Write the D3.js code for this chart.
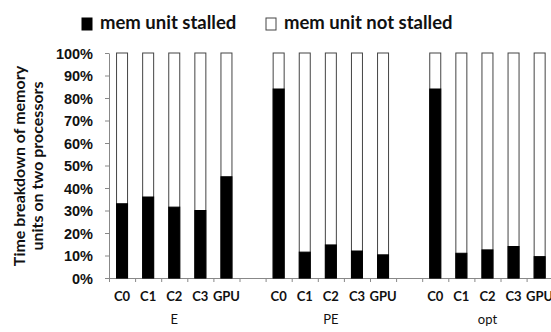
<!DOCTYPE html>
<html>
<head>
<meta charset="utf-8">
<script src="https://cdn.jsdelivr.net/npm/d3@7"></script>
<style>
  body { margin: 0; background: #fff; }
  svg { display: block; font-family: Lato, "Liberation Sans", sans-serif; }
</style>
</head>
<body>
<div id="chart"></div>
<script>
// groups and processors on the x axis
const groups = ['E', 'PE', 'opt'];
const units = ['C0', 'C1', 'C2', 'C3', 'GPU'];
// % of time the memory unit is stalled, per group
const stalledE = [33, 36, 31.5, 30, 45];
const stalledPE = [84, 11.5, 14.7, 12, 10.3];
const stalledOpt = [84, 11, 12.5, 14, 9.5];
const yTicks = [0, 10, 20, 30, 40, 50, 60, 70, 80, 90, 100];
const legendLabels = ['mem unit stalled', 'mem unit not stalled'];

const width = 551;
const height = 332;
const margin = { left: 109, top: 53, bottom: 278 };

// one slot per bar, with an empty slot between groups
const stalledByGroup = [stalledE, stalledPE, stalledOpt];
const slots = [];
groups.forEach((g, gi) => {
    units.forEach((u, ui) => {
        slots.push({ group: g, unit: u, idx: gi * (units.length + 1) + ui, stalled: stalledByGroup[gi][ui] });
    });
});
const nSlots = groups.length * (units.length + 1) - 1;

const svg = d3.select('#chart')
    .append('svg')
    .attr('width', width)
    .attr('height', height);

const step = 26.1;
const x = d3.scaleLinear()
    .domain([0, nSlots])
    .range([margin.left, margin.left + nSlots * step]);

const y = d3.scaleLinear()
    .domain([0, 100])
    .range([margin.bottom, margin.top]);

const barW = 11;

// y axis
const yAxis = svg.append('g')
    .attr('transform', `translate(${margin.left},0)`)
    .call(d3.axisLeft(y).tickValues(yTicks).tickFormat(d => d + '%').tickSize(4).tickSizeOuter(0));
yAxis.select('.domain').attr('stroke', '#888');
yAxis.selectAll('.tick line').attr('stroke', '#888');
yAxis.selectAll('.tick text')
    .attr('x', -16)
    .attr('dy', '0.35em')
    .style('font-size', '14.5px')
    .style('font-weight', 'bold')
    .attr('fill', '#111');

// x axis (ticks at slot boundaries)
const xAxis = svg.append('g')
    .attr('transform', `translate(0,${margin.bottom})`)
    .call(d3.axisBottom(x).tickValues(d3.range(nSlots + 1)).tickFormat('').tickSize(4).tickSizeOuter(0));
xAxis.select('.domain').attr('stroke', '#888');
xAxis.selectAll('.tick line').attr('stroke', '#888');

// bars: white full-height box, black stalled part
const bars = svg.append('g');
bars.selectAll('rect.total')
    .data(slots)
    .join('rect')
    .attr('class', 'total')
    .attr('x', d => x(d.idx + 0.5) - barW / 2)
    .attr('y', y(100))
    .attr('width', barW)
    .attr('height', y(0) - y(100))
    .attr('fill', '#fff')
    .attr('stroke', '#444')
    .attr('stroke-width', 1);

bars.selectAll('rect.stalled')
    .data(slots)
    .join('rect')
    .attr('class', 'stalled')
    .attr('x', d => x(d.idx + 0.5) - barW / 2)
    .attr('y', d => y(d.stalled))
    .attr('width', barW)
    .attr('height', d => y(0) - y(d.stalled))
    .attr('fill', '#000')
    .attr('stroke', '#000')
    .attr('stroke-width', 1);

// category labels
svg.append('g').selectAll('text')
    .data(slots)
    .join('text')
    .attr('x', d => x(d.idx + 0.5))
    .attr('y', 301)
    .attr('text-anchor', 'middle')
    .style('font-size', '13px')
    .style('font-weight', 'bold')
    .attr('fill', '#111')
    .text(d => d.unit);

// group labels
svg.append('g').selectAll('text')
    .data(groups)
    .join('text')
    .attr('x', (d, i) => x(i * (units.length + 1) + units.length / 2))
    .attr('y', 324)
    .attr('text-anchor', 'middle')
    .style('font-size', '13px')
    .attr('fill', '#111')
    .text(d => d);

// y title
svg.append('text')
    .attr('transform', 'translate(25,166) rotate(-90)')
    .attr('text-anchor', 'middle')
    .style('font-size', '16px')
    .style('font-weight', 'bold')
    .attr('fill', '#111')
    .selectAll('tspan')
    .data(['Time breakdown of memory', 'units on two processors'])
    .join('tspan')
    .attr('x', 0)
    .attr('dy', (d, i) => i === 0 ? 0 : 18)
    .text(d => d);

// legend
const legendX = [82, 266];
const legend = svg.append('g').selectAll('g')
    .data(legendLabels)
    .join('g')
    .attr('transform', (d, i) => `translate(${legendX[i]},18)`);
legend.append('rect')
    .attr('width', 10)
    .attr('height', 12)
    .attr('fill', (d, i) => i === 0 ? '#000' : '#fff')
    .attr('stroke', (d, i) => i === 0 ? '#000' : '#444');
legend.append('text')
    .attr('x', 18)
    .attr('y', 11)
    .style('font-size', '18.5px')
    .style('font-weight', 'bold')
    .attr('fill', '#111')
    .text(d => d);
</script>
</body>
</html>
